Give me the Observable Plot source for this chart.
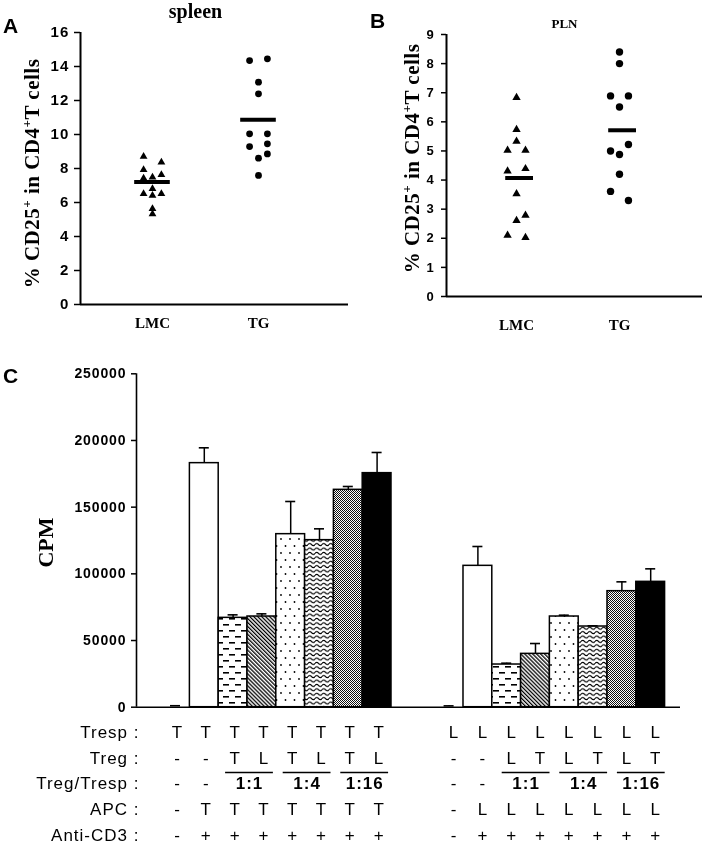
<!DOCTYPE html>
<html><head><meta charset="utf-8">
<script src="https://cdn.jsdelivr.net/npm/d3@7"></script>
<script src="https://cdn.jsdelivr.net/npm/@observablehq/plot@0.6"></script>
<style>
html,body{margin:0;padding:0;background:#fff;}
#root{position:relative;width:707px;height:848px;overflow:hidden;background:#fff;}
#root svg{will-change:transform;}
.lbl{position:absolute;font-family:"Liberation Sans",Arial,sans-serif;font-weight:bold;font-size:21px;line-height:1;color:#000;}
svg.pa g[aria-label="y-axis tick label"] text{letter-spacing:1.2px;}
svg.pb g[aria-label="y-axis tick label"] text{letter-spacing:0.8px;}
svg.pc g[aria-label="y-axis tick label"] text{letter-spacing:0.9px;}
svg.pt text{letter-spacing:1px;}
svg.pa text.ytitle, svg.pb text.ytitle{letter-spacing:0.5px;}
</style>
</head><body><div id="root"></div>
<script>
// ---------- data ----------
const groupsAB = ["LMC", "TG"];
const ticksA = [0, 2, 4, 6, 8, 10, 12, 14, 16];
const ticksB = [0, 1, 2, 3, 4, 5, 6, 7, 8, 9];
const yTitle = "% CD25+ in CD4+T cells";

// spleen (A)
const spleenLMC    = [8.71, 8.37, 7.92, 7.63, 7.43, 7.49, 6.81, 6.51, 6.41, 6.51, 5.63, 5.33];
const spleenLMCoff = [-1, 1, -1, 1, -1, 0, 0, -1, 0, 1, 0, 0];
const spleenTG     = [14.35, 14.45, 13.08, 12.39, 10.04, 10.04, 9.29, 9.45, 8.86, 8.61, 7.59];
const spleenTGoff  = [-1, 1, 0, 0, -1, 1, -1, 1, 1, 0, 0];
const spleenMeans  = [7.2, 10.87];

// PLN (B)
const plnLMC    = [6.83, 5.73, 5.33, 5.02, 5.02, 4.31, 4.39, 3.53, 2.79, 2.61, 2.10, 2.02];
const plnLMCoff = [0, 0, 0, -1, 1, -1, 1, 0, 1, 0, -1, 1];
const plnTG     = [8.40, 8.00, 6.89, 6.89, 6.51, 5.22, 5.00, 4.88, 4.20, 3.61, 3.30];
const plnTGoff  = [0, 0, -1, 1, 0, 1, -1, 0, 0, -1, 1];
const plnMeans  = [4.07, 5.71];

// proliferation (C)
const cpmT = [500, 183000, 67000, 68000, 129750, 125250, 163000, 175500];
const semT = [600, 11500, 2250, 2000, 24500, 8500, 2500, 15500];
const cpmL = [500, 106000, 32000, 40000, 68000, 60500, 87000, 94000];
const semL = [500, 14500, 1000, 7750, 1000, 500, 7000, 9750];
const cpmTicks = [0, 50000, 100000, 150000, 200000, 250000];
const barFills = ["white", "white", "url(#p-dash)", "url(#p-diag)", "url(#p-dot)", "url(#p-wave)", "url(#p-grey)", "black"];

// table under C
const tableRows = ["Tresp :", "Treg :", "Treg/Tresp :", "APC :", "Anti-CD3 :"];
const trespT = ["T","T","T","T","T","T","T","T"];
const trespL = ["L","L","L","L","L","L","L","L"];
const tregT  = ["-","-","T","L","T","L","T","L"];
const tregL  = ["-","-","L","T","L","T","L","T"];
const ratioDash = ["-","-"];
const ratioLabels = ["1:1", "1:4", "1:16"];
const apcT = ["-","T","T","T","T","T","T","T"];
const apcL = ["-","L","L","L","L","L","L","L"];
const cd3  = ["-","+","+","+","+","+","+","+"];

// ---------- helpers ----------
const serif = "'Liberation Serif','Times New Roman',serif";
const sans = "'Liberation Sans',Arial,sans-serif";
const NS = "http://www.w3.org/2000/svg";
const root = document.getElementById("root");
function place(svg, left, top) {
  svg.style.position = "absolute";
  svg.style.left = left + "px";
  svg.style.top = top + "px";
  root.appendChild(svg);
  return svg;
}
function supify(svg, fs) {
  svg.querySelectorAll("text").forEach(t => {
    if (t.textContent === yTitle) {
      t.classList.add("ytitle");
      const parts = yTitle.split("+");
      t.textContent = "";
      parts.forEach((p, i) => {
        const s = document.createElementNS(NS, "tspan");
        s.textContent = p;
        if (i > 0) s.setAttribute("dy", (0.4 * fs).toFixed(1));
        t.appendChild(s);
        if (i < parts.length - 1) {
          const u = document.createElementNS(NS, "tspan");
          u.textContent = "+";
          u.setAttribute("dy", (-0.4 * fs).toFixed(1));
          u.setAttribute("font-size", (0.62 * fs).toFixed(1));
          t.appendChild(u);
        }
      });
    }
  });
}
function label(txt, left, top) {
  const d = document.createElement("div");
  d.className = "lbl"; d.textContent = txt;
  d.style.left = left + "px"; d.style.top = top + "px";
  root.appendChild(d);
}
const jit = 0.084;
const pts = (vals, offs, g) => vals.map((v, i) => ({g, v, o: offs[i]}));

// ---------- Panel A ----------
const xA = [0.321, 2.849];
const A = Plot.plot({
  width: 350, height: 335, marginLeft: 80, marginRight: 2, marginTop: 32, marginBottom: 31,
  className: "pa",
  style: {fontFamily: sans, fontSize: "15px", fontWeight: "bold", background: "transparent", overflow: "visible", color: "#000"},
  x: {domain: xA, axis: null},
  y: {domain: [0, 16]},
  marks: [
    Plot.axisY({ticks: ticksA, tickSize: 6, tickPadding: 5, strokeWidth: 1.5, label: null, tickFormat: d => String(d), fontSize: 15}),
    Plot.ruleY([0], {strokeWidth: 2}),
    Plot.ruleX([xA[0]], {y1: () => 0, y2: () => 16, strokeWidth: 2}),
    Plot.dot(pts(spleenLMC, spleenLMCoff, 1), {x: d => d.g + d.o * jit, y: "v", symbol: "triangle", fill: "black", r: 2.9}),
    Plot.dot(pts(spleenTG, spleenTGoff, 2), {x: d => d.g + d.o * jit, y: "v", symbol: "circle", fill: "black", r: 3.4}),
    Plot.ruleY(spleenMeans, {y: d => d, x1: (d, i) => i + 1 - 0.168, x2: (d, i) => i + 1 + 0.168, strokeWidth: 4}),
    Plot.text(groupsAB, {text: d => d, x: (d, i) => i + 1, frameAnchor: "bottom", dy: 23, fontFamily: serif, fontSize: 15, fontWeight: "bold"}),
    Plot.text(["spleen"], {text: d => d, frameAnchor: "top", dx: -19, dy: -29, fontFamily: serif, fontSize: 20, fontWeight: "bold"}),
    Plot.text([yTitle], {text: d => d, frameAnchor: "left", textAnchor: "middle", rotate: -90, dx: -48, dy: 5, fontFamily: serif, fontSize: 21, fontWeight: "bold"})
  ]
});
supify(A, 21);
place(A, 0, 0);

// ---------- Panel B ----------
const xB = [0.320, 2.806];
const B = Plot.plot({
  width: 357, height: 335, marginLeft: 96, marginRight: 5, marginTop: 34, marginBottom: 39,
  className: "pb",
  style: {fontFamily: sans, fontSize: "13px", fontWeight: "bold", background: "transparent", overflow: "visible", color: "#000"},
  x: {domain: xB, axis: null},
  y: {domain: [0, 9]},
  marks: [
    Plot.axisY({ticks: ticksB, tickSize: 5, tickPadding: 7, strokeWidth: 1.5, label: null, tickFormat: d => String(d), fontSize: 13}),
    Plot.ruleY([0], {strokeWidth: 2}),
    Plot.ruleX([xB[0]], {y1: () => 0, y2: () => 9, strokeWidth: 2}),
    Plot.dot(pts(plnLMC, plnLMCoff, 1), {x: d => d.g + d.o * 0.087, y: "v", symbol: "triangle", fill: "black", r: 3.1}),
    Plot.dot(pts(plnTG, plnTGoff, 2), {x: d => d.g + d.o * 0.087, y: "v", symbol: "circle", fill: "black", r: 3.7}),
    Plot.ruleY(plnMeans, {y: d => d, x1: (d, i) => i + 1.03 - 0.135, x2: (d, i) => i + 1.03 + 0.135, strokeWidth: 4}),
    Plot.text(groupsAB, {text: d => d, x: (d, i) => i + 1, frameAnchor: "bottom", dy: 33, fontFamily: serif, fontSize: 15, fontWeight: "bold"}),
    Plot.text(["PLN"], {text: d => d, frameAnchor: "top", dx: -10, dy: -16, fontFamily: serif, fontSize: 13}),
    Plot.text([yTitle], {text: d => d, frameAnchor: "left", textAnchor: "middle", rotate: -90, dx: -34, dy: -7, fontFamily: serif, fontSize: 21, fontWeight: "bold"})
  ]
});
supify(B, 21);
place(B, 350, 0);

// ---------- Panel C ----------
const groupStart = [0, 9.5];
const bars = [];
[[cpmT, semT], [cpmL, semL]].forEach(([vals, errs], gi) =>
  vals.forEach((v, i) => bars.push({pos: groupStart[gi] + i, v, e: errs[i], k: i})));
const xC = [-1.354, 17.535];
const barMarks = barFills.map((f, k) =>
  Plot.rect(bars.filter(b => b.k === k), {
    x1: b => b.pos - 0.5, x2: b => b.pos + 0.5, y1: () => 0, y2: "v",
    fill: f, stroke: k === 0 ? "none" : "black", strokeWidth: 1.5
  }));
const C = Plot.plot({
  width: 707, height: 380, marginLeft: 136, marginRight: 27, marginTop: 33.3, marginBottom: 13.3,
  className: "pc",
  style: {fontFamily: sans, fontSize: "14px", fontWeight: "bold", background: "transparent", overflow: "visible", color: "#000"},
  x: {domain: xC, axis: null},
  y: {domain: [0, 250000]},
  marks: [
    Plot.axisY({ticks: cpmTicks, tickSize: 5, tickPadding: 5, strokeWidth: 1.5, label: null, tickFormat: d => String(d), fontSize: 14}),
    ...barMarks,
    Plot.ruleX(bars, {x: "pos", y1: "v", y2: d => d.v + d.e, strokeWidth: 1.5}),
    Plot.ruleY(bars, {y: d => d.v + d.e, x1: d => d.pos - 0.174, x2: d => d.pos + 0.174, strokeWidth: 1.6}),
    Plot.ruleY([0], {strokeWidth: 1.6}),
    Plot.ruleX([xC[0]], {y1: () => 0, y2: () => 250000, strokeWidth: 1.6}),
    Plot.text(["CPM"], {text: d => d, frameAnchor: "left", textAnchor: "middle", rotate: -90, dx: -91, dy: 2, fontFamily: serif, fontSize: 22, fontWeight: "bold"})
  ]
});
C.insertAdjacentHTML("afterbegin", `<defs>
<pattern id="p-dash" patternUnits="userSpaceOnUse" width="12" height="12">
  <rect width="12" height="12" fill="#fff"/>
  <rect x="1" y="2" width="6" height="1.6" fill="#000"/>
  <rect x="7" y="8" width="6" height="1.6" fill="#000"/>
  <rect x="-5" y="8" width="6" height="1.6" fill="#000"/>
</pattern>
<pattern id="p-diag" patternUnits="userSpaceOnUse" width="2.8" height="2.8" patternTransform="rotate(-45)">
  <rect width="2.8" height="2.8" fill="#fff"/>
  <rect width="1.3" height="2.8" fill="#000"/>
</pattern>
<pattern id="p-dot" patternUnits="userSpaceOnUse" width="9" height="14">
  <rect width="9" height="14" fill="#fff"/>
  <circle cx="2" cy="3" r="0.9" fill="#000"/>
  <circle cx="6.5" cy="10" r="0.9" fill="#000"/>
</pattern>
<pattern id="p-wave" patternUnits="userSpaceOnUse" width="7" height="4.4">
  <rect width="7" height="4.4" fill="#fff"/>
  <path d="M0,2.2 Q1.75,0.2 3.5,2.2 T7,2.2" fill="none" stroke="#000" stroke-width="1.1"/>
</pattern>
<pattern id="p-grey" patternUnits="userSpaceOnUse" width="2" height="2">
  <rect width="2" height="2" fill="#fff"/>
  <rect width="1" height="1" fill="#111"/>
  <rect x="1" y="1" width="1" height="1" fill="#111"/>
</pattern>
</defs>`);
place(C, 0, 340);

// ---------- Table under C ----------
function cells(rowsArr, start) {
  const out = [];
  rowsArr.forEach(([vals, row]) => vals.forEach((t, i) => out.push({pos: start + i, row, t})));
  return out;
}
const leftCells = cells([[trespT, 0], [tregT, 1], [ratioDash, 2], [apcT, 3], [cd3, 4]], groupStart[0]);
const rightCells = cells([[trespL, 0], [tregL, 1], [ratioDash, 2], [apcL, 3], [cd3, 4]], groupStart[1]);
const ratioCells = [];
groupStart.forEach(s => ratioLabels.forEach((t, j) => ratioCells.push({pos: s + 2.5 + 2 * j, t, left: s === 0})));
const T = Plot.plot({
  width: 707, height: 128, marginLeft: 136, marginRight: 27, marginTop: 0, marginBottom: 0,
  className: "pt",
  style: {fontFamily: sans, fontSize: "17px", background: "transparent", overflow: "visible", color: "#000"},
  x: {domain: xC, axis: null},
  y: {domain: [0, 4], range: [12, 115], axis: null},
  marks: [
    Plot.text(tableRows, {text: d => d, frameAnchor: "left", y: (d, i) => i, dx: 3, textAnchor: "end", fontSize: 17}),
    Plot.text(leftCells, {x: "pos", y: "row", text: "t", dx: 2, fontSize: 17}),
    Plot.text(rightCells, {x: "pos", y: "row", text: "t", dx: 5, fontSize: 17}),
    Plot.text(ratioCells.filter(d => d.left), {x: "pos", y: () => 2, text: "t", dx: 2, fontSize: 17, fontWeight: "bold"}),
    Plot.text(ratioCells.filter(d => !d.left), {x: "pos", y: () => 2, text: "t", dx: 5, fontSize: 17, fontWeight: "bold"}),
    Plot.ruleY(ratioCells.filter(d => d.left), {y: () => 1.55, x1: d => d.pos - 0.83, x2: d => d.pos + 0.83, dx: 2, strokeWidth: 1.5}),
    Plot.ruleY(ratioCells.filter(d => !d.left), {y: () => 1.55, x1: d => d.pos - 0.83, x2: d => d.pos + 0.83, dx: 5, strokeWidth: 1.5})
  ]
});
place(T, 0, 720);

// panel letters
label("A", 3, 15);
label("B", 370, 10);
label("C", 3, 365);
</script></body></html>
